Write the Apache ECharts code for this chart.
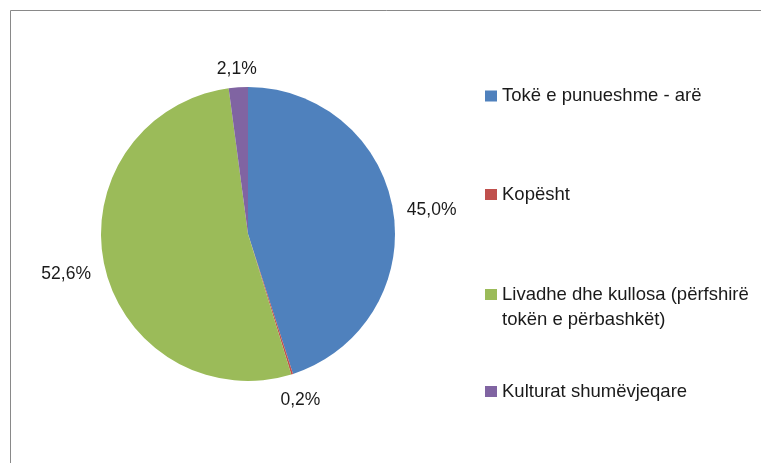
<!DOCTYPE html>
<html>
<head>
<meta charset="utf-8">
<script src="https://cdn.jsdelivr.net/npm/echarts@6/dist/echarts.min.js"></script>
<style>
html,body{margin:0;padding:0;background:#fff;}
#chart{width:761px;height:463px;}
</style>
</head>
<body>
<div id="chart"></div>
<script>
var categories = ['Tokë e punueshme - arë', 'Kopësht', 'Livadhe dhe kullosa (përfshirë\ntokën e përbashkët)', 'Kulturat shumëvjeqare'];
var values = [45.0, 0.2, 52.6, 2.1];
var labelTexts = ['45,0%', '0,2%', '52,6%', '2,1%'];
var colors = ['#4F81BD', '#C0504D', '#9BBB59', '#8064A2'];

var CX = 248, CY = 234, R = 147, GAP = 13;
var FONT = '"Liberation Sans", Arial, sans-serif';

var total = values.reduce(function (a, b) { return a + b; }, 0);

function labelLayout(p) {
  var dx, dy, x0, y0;
  var pts = p.labelLinePoints;
  if (pts && pts.length >= 2) {
    dx = pts[1][0] - pts[0][0];
    dy = pts[1][1] - pts[0][1];
    var n = Math.sqrt(dx * dx + dy * dy);
    if (n > 1e-6) { dx /= n; dy /= n; x0 = pts[0][0]; y0 = pts[0][1]; }
  }
  if (x0 === undefined) {
    var cum = 0;
    for (var i = 0; i < p.dataIndex; i++) cum += values[i];
    var frac = (cum + values[p.dataIndex] / 2) / total;
    var a = frac * Math.PI * 2;
    dx = Math.sin(a); dy = -Math.cos(a);
    x0 = CX + R * dx; y0 = CY + R * dy;
  }
  var w = p.labelRect.width, h = p.labelRect.height;
  var ext = (w * Math.abs(dx) + h * Math.abs(dy)) / 2;
  var d = GAP + ext;
  return { x: x0 + dx * d, y: y0 + dy * d + (dy < 0 ? 5 : 0), align: 'center', verticalAlign: 'middle' };
}

var LH = 25;
var legendTops = [96 - LH / 2, 194.5 - LH / 2, 294.5 - LH * 1.5, 391.5 - LH / 2];
var legends = categories.map(function (c, i) {
  var multi = c.indexOf('\n') >= 0;
  var ts = { fontFamily: FONT, fontSize: 18.5, color: '#1a1a1a', lineHeight: LH };
  return {
    orient: 'vertical', left: 485, top: legendTops[i], padding: 0,
    itemWidth: 12, itemHeight: 11, itemGap: 0, icon: 'rect',
    selectedMode: false,
    data: [c],
    formatter: multi ? function (name) { return '\u00a0\n' + name; } : '{name}',
    textStyle: ts
  };
});

var chart = echarts.init(document.getElementById('chart'), null, { renderer: 'canvas' });
chart.setOption({
  animation: false,
  color: colors,
  graphic: [{
    type: 'rect', silent: true,
    shape: { x: 10.5, y: 10.5, width: 900, height: 600 },
    style: { fill: 'none', stroke: '#898989', lineWidth: 1 }
  }],
  legend: legends,
  series: [{
    type: 'pie',
    center: [CX, CY],
    radius: R,
    startAngle: 90,
    clockwise: true,
    avoidLabelOverlap: false,
    minShowLabelAngle: 0,
    itemStyle: { borderWidth: 0 },
    label: {
      show: true, position: 'outside',
      fontFamily: FONT, fontSize: 17.5, color: '#1a1a1a',
      formatter: function (p) { return labelTexts[p.dataIndex]; }
    },
    labelLine: { show: true, length: 5, length2: 0, lineStyle: { width: 0, opacity: 0 } },
    labelLayout: labelLayout,
    emphasis: { disabled: true },
    data: categories.map(function (c, i) { return { name: c, value: values[i] }; })
  }]
});
</script>
</body>
</html>
